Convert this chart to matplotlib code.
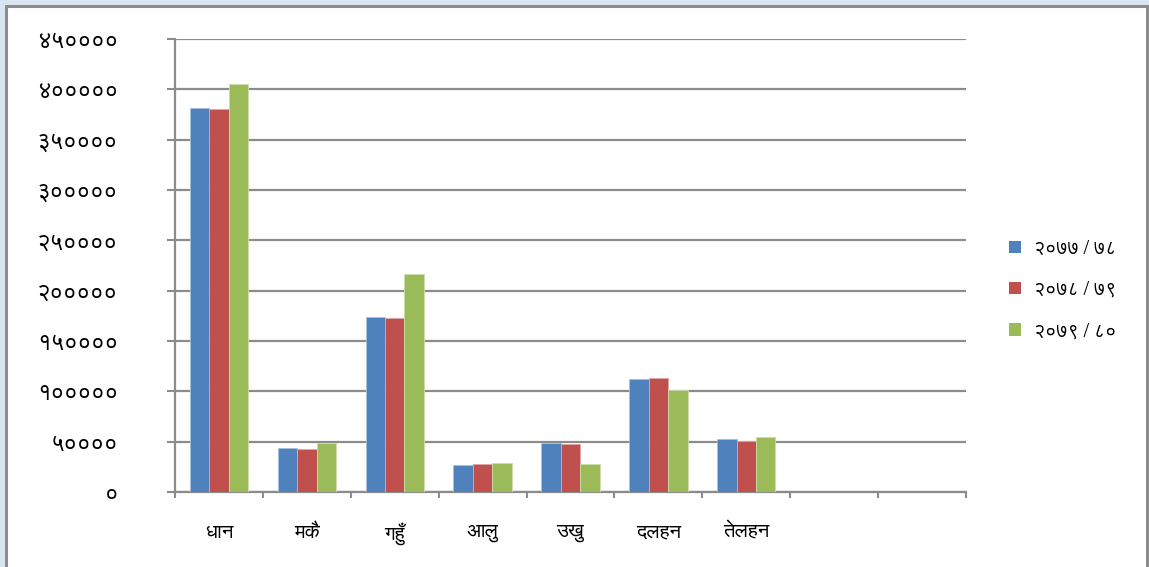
import matplotlib
matplotlib.use("Agg")
import matplotlib.pyplot as plt
from matplotlib.patches import Rectangle, Patch

# Devanagari needs a font that has the glyphs
DEVA = ['FreeSans', 'Noto Sans Devanagari', 'DejaVu Sans']

crops = ["धान", "मकै", "गहुँ", "आलु", "उखु", "दलहन", "तेलहन", "", ""]
years = ["२०७७ / ७८", "२०७८ / ७९", "२०७९ / ८०"]
y2077 = [381500, 44000, 173800, 26500, 48400, 112000, 52300]
y2078 = [380500, 42400, 172900, 27800, 47400, 113000, 51000]
y2079 = [405000, 48400, 216600, 28500, 27500, 101600, 54600]
yticks = [0, 50000, 100000, 150000, 200000, 250000, 300000, 350000, 400000, 450000]

deva_digits = str.maketrans("0123456789", "०१२३४५६७८९")
colors = ['#4f81bd', '#c0504d', '#9bbb59']
edges = ['#a7c0de', '#e0a8a6', '#cddcac']

fig = plt.figure(figsize=(11.49, 5.67), dpi=100, facecolor='#dbe5f1')
# white chart area with grey frame
fig.patches.append(Rectangle((6 / 1149, -0.01), 1141 / 1149, 1 - 6 / 567 + 0.01,
                             transform=fig.transFigure, facecolor='white',
                             edgecolor='#8c8c8c', linewidth=2.2, zorder=-5))

ax = fig.add_axes([175 / 1149, 1 - 492 / 567, 791 / 1149, 453 / 567])
ax.set_facecolor('none')
ax.set_zorder(2)

w = 0.221
for i, (vals, c, e, lab) in enumerate(zip([y2077, y2078, y2079], colors, edges, years)):
    xs = [k + (i - 1) * w for k in range(len(vals))]
    ax.bar(xs, vals, width=w, color=c, edgecolor=e, linewidth=0.6, label=lab, zorder=3)

ax.set_xlim(-0.5, len(crops) - 0.5)
ax.set_ylim(0, 450000)
ax.set_yticks(yticks)
ax.set_yticklabels([str(v).translate(deva_digits) for v in yticks], family=DEVA, fontsize=17)
ax.set_xticks(range(len(crops)))
ax.set_xticklabels(crops, family=DEVA, fontsize=14.5)
ax.set_xticks([k - 0.5 for k in range(len(crops) + 1)], minor=True)
ax.tick_params(axis='x', which='major', length=0, pad=22)
ax.tick_params(axis='x', which='minor', length=4, width=1.5, color='#8c8c8c')
ax.tick_params(axis='y', length=6, width=1.5, color='#8c8c8c', pad=35)

ax.grid(axis='y', color='#8c8c8c', linewidth=1.6, zorder=0)
ax.set_axisbelow(True)
for s in ['top', 'right']:
    ax.spines[s].set_visible(False)
for s in ['left', 'bottom']:
    ax.spines[s].set_color('#8c8c8c')
    ax.spines[s].set_linewidth(1.6)

handles = [Patch(facecolor=c, edgecolor='none') for c in colors]
leg = fig.legend(handles, years, loc='center left', bbox_to_anchor=(991 / 1149, 1 - 290 / 567),
                 frameon=False, prop={'family': DEVA, 'size': 14}, handlelength=0.62,
                 handleheight=0.62, labelspacing=1.2, handletextpad=0.7)
leg.set_zorder(3)

fig.savefig("out.png", dpi=100, facecolor=fig.get_facecolor())
